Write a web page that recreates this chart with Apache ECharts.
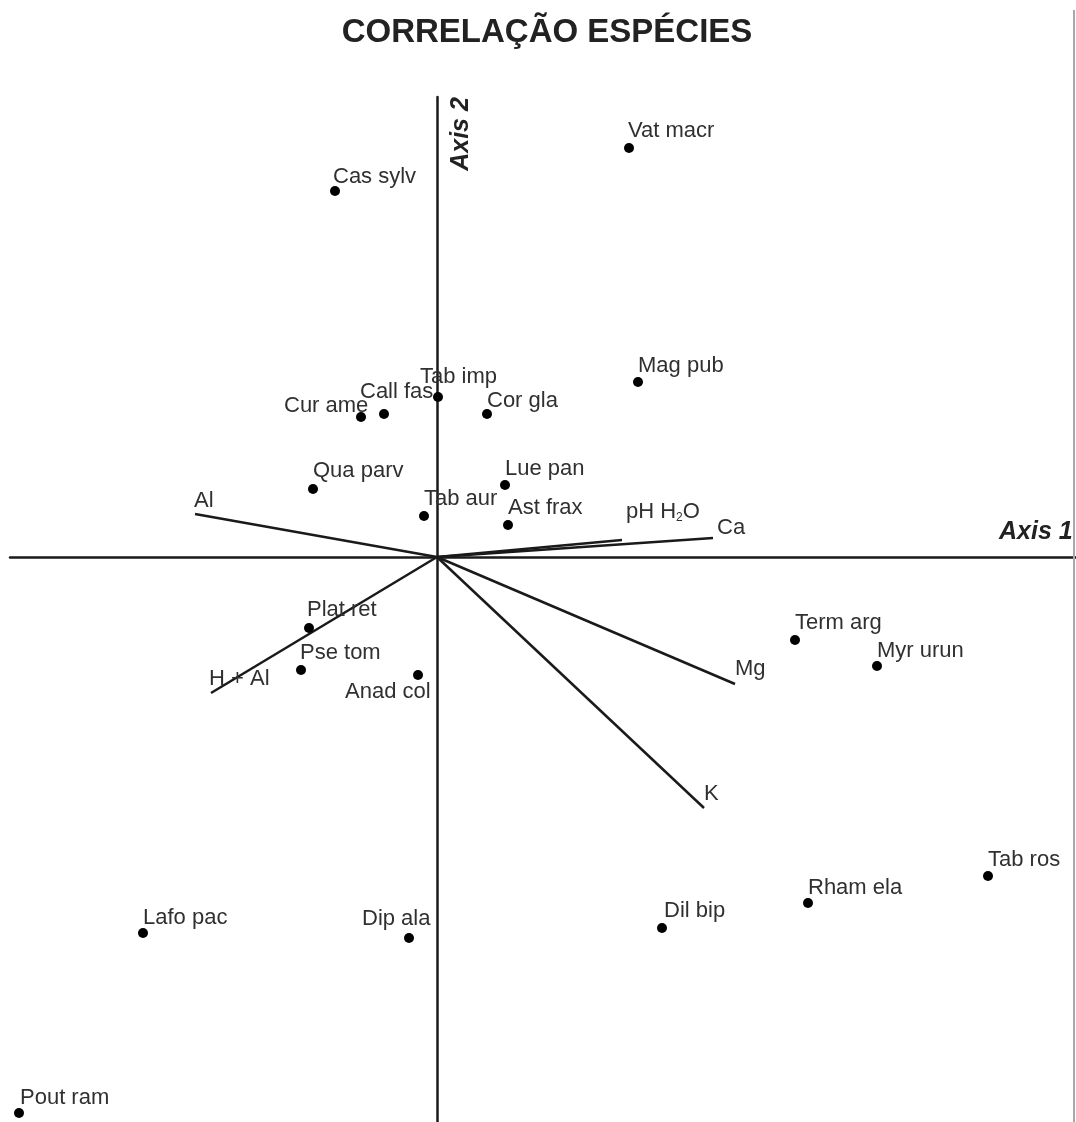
<!DOCTYPE html>
<html>
<head>
<meta charset="utf-8">
<script src="https://cdn.jsdelivr.net/npm/echarts@6/dist/echarts.min.js"></script>
<style>
  html, body { margin: 0; padding: 0; background: #fff; }
  #chart { width: 1076px; height: 1122px; }
</style>
</head>
<body>
<div id="chart"></div>
<script>
// Species scores on the first two ordination axes
const speciesNames = ['Vat macr', 'Cas sylv', 'Mag pub', 'Tab imp', 'Call fas', 'Cur ame', 'Cor gla',
  'Qua parv', 'Lue pan', 'Tab aur', 'Ast frax', 'Plat ret', 'Pse tom', 'Anad col', 'Term arg',
  'Myr urun', 'Tab ros', 'Rham ela', 'Dil bip', 'Lafo pac', 'Dip ala', 'Pout ram'];
const speciesAxis1 = [0.96, -0.51, 1.005, 0.005, -0.265, -0.38, 0.25, -0.62, 0.34, -0.065, 0.355,
  -0.64, -0.68, -0.095, 1.79, 2.20, 2.755, 1.855, 1.125, -1.47, -0.14, -2.09];
const speciesAxis2 = [2.045, 1.83, 0.875, 0.80, 0.715, 0.70, 0.715, 0.34, 0.36, 0.205, 0.16,
  -0.355, -0.565, -0.59, -0.415, -0.545, -1.595, -1.73, -1.855, -1.88, -1.905, -2.78];

// Soil variable vectors (drawn from the origin)
const envNames = ['Al', 'Ca', 'pH H2O', 'Mg', 'K', 'H + Al'];
const envAxis1 = [-1.21, 1.38, 0.925, 1.49, 1.335, -1.13];
const envAxis2 = [0.215, 0.095, 0.085, -0.635, -1.255, -0.68];

// Label offsets (px) for each species name relative to its point
const speciesLabelOffset = {
  'Vat macr': [-1, -17], 'Cas sylv': [-2, -14], 'Mag pub': [0, -16], 'Tab imp': [-18, -20],
  'Call fas': [-24, -22], 'Cur ame': [-77, -11], 'Cor gla': [0, -13], 'Qua parv': [0, -18],
  'Lue pan': [0, -16], 'Tab aur': [0, -17], 'Ast frax': [0, -17], 'Plat ret': [-2, -18],
  'Pse tom': [-1, -17], 'Anad col': [-73, 17], 'Term arg': [0, -17], 'Myr urun': [0, -15],
  'Tab ros': [0, -16], 'Rham ela': [0, -15], 'Dil bip': [2, -17], 'Lafo pac': [0, -15],
  'Dip ala': [-47, -19], 'Pout ram': [1, -15]
};
const envLabelOffset = {
  'Al': [-1, -13], 'Ca': [4, -10], 'pH H2O': [4, -28], 'Mg': [0, -15],
  'K': [0, -14], 'H + Al': [-2, -14]
};

const FONT = '"Liberation Sans", Arial, Helvetica, sans-serif';
const INK = '#1a1a1a';
const TEXT = '#303030';

const speciesData = speciesNames.map((n, i) => ({
  name: n,
  value: [speciesAxis1[i], speciesAxis2[i]],
  label: { offset: speciesLabelOffset[n] }
}));

const envLines = envNames.map((n, i) => ({ coords: [[0, 0], [envAxis1[i], envAxis2[i]]] }));
const envLabels = envNames.map((n, i) => ({
  name: n,
  value: [envAxis1[i], envAxis2[i]],
  label: { offset: envLabelOffset[n] }
}));

const chart = echarts.init(document.getElementById('chart'), null, { renderer: 'canvas' });

chart.setOption({
  animation: false,
  backgroundColor: '#ffffff',
  title: {
    text: 'CORRELAÇÃO ESPÉCIES',
    left: 542, top: 11, textAlign: 'center',
    textStyle: { fontFamily: FONT, fontSize: 33, fontWeight: 'bold', color: '#222' }
  },
  grid: { left: 10, top: 97, width: 1066, height: 1025, containLabel: false },
  xAxis: {
    type: 'value', min: -2.135, max: 3.195,
    axisLine: { show: true, onZero: true, lineStyle: { color: INK, width: 2.5 } },
    axisTick: { show: false }, axisLabel: { show: false }, splitLine: { show: false }
  },
  yAxis: {
    type: 'value', min: -2.825, max: 2.3,
    axisLine: { show: true, onZero: true, lineStyle: { color: INK, width: 2.5 } },
    axisTick: { show: false }, axisLabel: { show: false }, splitLine: { show: false }
  },
  graphic: [
    {
      type: 'line', shape: { x1: 1074, y1: 10, x2: 1074, y2: 1122 },
      style: { stroke: '#a8a8a8', lineWidth: 2 }, z: 1
    },
    {
      type: 'text', x: 999, y: 532,
      style: {
        text: 'Axis 1', fill: '#222', font: 'italic bold 25px ' + FONT,
        textVerticalAlign: 'middle', textAlign: 'left'
      }
    },
    {
      type: 'text', x: 461, y: 134, rotation: Math.PI / 2,
      style: {
        text: 'Axis 2', fill: '#222', font: 'italic bold 25px ' + FONT,
        textVerticalAlign: 'middle', textAlign: 'center'
      }
    }
  ],
  series: [
    {
      type: 'lines', coordinateSystem: 'cartesian2d', polyline: false,
      data: envLines, symbol: 'none',
      lineStyle: { color: INK, width: 2.5, opacity: 1, curveness: 0 },
      z: 2, silent: true
    },
    {
      type: 'scatter', data: envLabels, symbolSize: 0, z: 3, silent: true,
      itemStyle: { opacity: 1 },
      label: {
        show: true, position: 'inside', align: 'left', verticalAlign: 'middle',
        fontFamily: FONT, fontSize: 22, color: TEXT,
        formatter: p => p.name === 'pH H2O' ? 'pH H{sub|2}O' : p.name,
        rich: { sub: { fontSize: 12, verticalAlign: 'bottom', padding: [11, 0, 0, 0], fontFamily: FONT, color: TEXT } }
      }
    },
    {
      type: 'scatter', data: speciesData, symbol: 'circle', symbolSize: 10, z: 4,
      itemStyle: { color: '#000', opacity: 1 },
      label: {
        show: true, position: 'inside', align: 'left', verticalAlign: 'middle',
        fontFamily: FONT, fontSize: 22, color: TEXT,
        formatter: p => p.name
      }
    }
  ]
});
</script>
</body>
</html>
